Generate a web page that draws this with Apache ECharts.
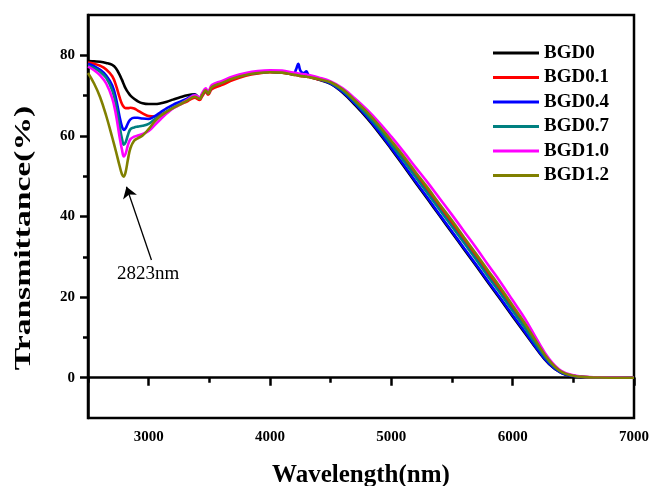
<!DOCTYPE html>
<html>
<head>
<meta charset="utf-8">
<script src="https://cdn.jsdelivr.net/npm/echarts@6/dist/echarts.min.js"></script>
<style>html,body{margin:0;padding:0;background:#fff}#c{width:651px;height:486px}</style>
</head>
<body>
<div id="c"></div>
<script>
var wavelengths = [2500,2550,2600,2650,2700,2730,2760,2780,2795,2810,2830,2850,2880,2910,2950,3000,3050,3100,3150,3200,3260,3320,3380,3420,3440,3470,3490,3520,3600,3700,3800,3900,4000,4100,4190,4215,4233,4250,4275,4300,4320,4400,4500,4600,4700,4800,4900,5000,5100,5200,5300,5400,5500,5600,5700,5800,5900,6000,6100,6200,6300,6400,6500,6600,6700,6800,7000];

var BGD0 = [78.6,78.5,78.4,78.1,77.6,76.8,75.2,73.9,72.8,71.8,70.8,70.0,69.2,68.6,68.1,67.9,67.9,68.1,68.5,69.0,69.6,70.1,70.3,
  69.3,70.2,71.4,70.6,72.2,73.2,74.4,75.2,75.7,75.9,75.8,75.3,75.2,75.1,75.0,74.9,74.8,74.7,
  74.0,72.9,70.7,67.7,64.4,60.7,56.7,52.6,48.4,44.3,40.1,36.0,31.8,27.7,23.5,19.4,15.2,11.1,7.0,3.4,1.2,0.4,0.1,0.05,0,0];
var BGD01 = [78.2,77.9,77.4,76.5,74.8,72.6,69.6,67.9,67.2,66.9,66.9,67.0,66.8,66.3,65.6,64.9,64.8,65.2,66.0,66.9,67.8,68.6,69.5,
  68.9,69.8,70.9,70.2,71.6,72.6,73.9,74.9,75.5,75.8,75.7,75.2,75.1,75.0,74.9,74.8,74.7,74.6,
  74.0,73.2,71.3,68.6,65.6,62.1,58.4,54.5,50.4,46.5,42.4,38.3,34.2,30.1,25.8,21.7,17.3,13.0,8.3,4.1,1.4,0.5,0.15,0.05,0,0];
var BGD04 = [77.9,77.3,76.4,75.0,72.5,69.4,64.8,62.3,61.5,61.9,63.2,64.1,64.5,64.5,64.3,64.2,64.9,65.9,66.9,67.7,68.5,69.3,70.2,
  69.3,70.2,71.4,70.6,72.2,73.2,74.4,75.2,75.7,75.9,75.8,75.3,76.5,77.9,76.2,75.6,76.0,75.0,
  74.1,73.0,70.9,68.0,64.7,61.0,57.0,52.9,48.7,44.6,40.4,36.3,32.1,28.0,23.8,19.7,15.5,11.4,7.2,3.5,1.2,0.4,0.1,0.05,0,0];
var BGD07 = [77.4,76.8,75.9,74.4,71.3,67.8,62.5,59.3,57.8,58.4,60.3,61.7,62.1,62.3,62.5,63.0,64.1,65.1,66.1,67.0,68.0,69.0,70.1,
  69.3,70.2,71.4,70.6,72.2,73.2,74.4,75.2,75.7,75.9,75.8,75.3,75.2,75.1,75.0,74.9,74.8,74.7,
  74.1,73.2,71.2,68.4,65.2,61.7,57.8,53.9,49.8,45.7,41.6,37.5,33.4,29.3,25.0,20.9,16.6,12.4,7.9,3.9,1.4,0.5,0.15,0.05,0,0];
var BGD10 = [77.2,76.3,75.0,73.0,69.3,65.3,59.8,56.6,54.9,55.6,57.8,59.2,59.8,60.1,60.5,61.2,62.7,64.2,65.6,66.8,67.8,69.0,70.1,
  69.6,70.5,71.8,71.0,72.6,73.6,74.8,75.6,76.1,76.3,76.2,75.7,75.6,75.5,75.4,75.3,75.2,75.1,
  74.5,73.5,71.8,69.3,66.5,63.3,59.8,56.1,52.2,48.4,44.4,40.4,36.3,32.2,27.9,23.7,19.2,14.7,9.5,4.7,1.7,0.6,0.2,0.1,0.05,0];
var BGD12 = [75.6,73.0,69.6,65.0,59.6,56.2,52.6,50.5,49.9,51.0,54.3,57.0,58.8,59.4,60.1,61.7,63.6,65.0,66.0,66.9,67.8,68.8,69.7,
  69.2,70.1,71.3,70.5,72.1,73.1,74.3,75.1,75.6,75.8,75.7,75.2,75.1,75.0,74.9,74.8,74.7,74.6,
  74.1,73.3,71.5,68.8,65.9,62.5,58.8,55.0,51.0,47.1,43.0,39.0,34.8,30.7,26.5,22.3,17.9,13.5,8.7,4.3,1.5,0.5,0.15,0.05,0,0];

var seriesNames = ['BGD0','BGD0.1','BGD0.4','BGD0.7','BGD1.0','BGD1.2'];
var seriesValues = [BGD0, BGD01, BGD04, BGD07, BGD10, BGD12];
var seriesColors = ['#000000','#ff0000','#0000ff','#008080','#ff00ff','#808000'];

var xMajorTicks = [3000,4000,5000,6000,7000];
var xMinorTicks = [2500,3500,4500,5500,6500];
var yMajorTicks = [0,20,40,60,80];
var yMinorTicks = [10,30,50,70];

var annotationText = '2823nm';
var arrowTail = [3023, 29.2];
var arrowHead = [2817, 47.4];
var annotationPos = [2995, 25.8];

var FONT = '"Liberation Serif","Times New Roman",serif';

var series = seriesNames.map(function (name, k) {
  var s = {
    name: name,
    type: 'line',
    xAxisIndex: 0,
    yAxisIndex: 0,
    symbol: 'none',
    smooth: 0.4,
    lineStyle: { width: 2.6, color: seriesColors[k] },
    itemStyle: { color: seriesColors[k] },
    data: wavelengths.map(function (w, i) { return [w, seriesValues[k][i]]; }),
    z: 3 + k
  };
  if (k === seriesNames.length - 1) {
    s.markLine = {
      silent: true,
      symbol: ['none', 'arrow'],
      symbolSize: 11,
      lineStyle: { color: '#000', width: 1.3, type: 'solid' },
      itemStyle: { color: '#000' },
      label: { show: false },
      data: [[{ coord: arrowTail }, { coord: arrowHead }]]
    };
    s.markPoint = {
      silent: true,
      symbol: 'rect',
      symbolSize: 1,
      itemStyle: { color: 'rgba(0,0,0,0)' },
      label: { show: true, position: 'inside', formatter: annotationText, color: '#000', fontSize: 19, fontFamily: FONT, fontWeight: 'normal' },
      data: [{ coord: annotationPos }]
    };
  }
  return s;
});

var chart = echarts.init(document.getElementById('c'), null, { renderer: 'canvas' });
chart.setOption({
  animation: false,
  backgroundColor: '#fff',
  grid: { left: 88, right: 17, top: 15, bottom: 68, containLabel: false, outerBoundsMode: 'none', show: true, borderColor: '#000', borderWidth: 2.5, backgroundColor: 'transparent' },
  legend: {
    orient: 'vertical',
    left: 488,
    top: 38,
    icon: 'rect',
    itemWidth: 46,
    itemHeight: 3,
    itemGap: 4.5,
    data: seriesNames,
    textStyle: { fontSize: 19, lineHeight: 20, fontWeight: 'bold', fontFamily: FONT, color: '#000' }
  },
  xAxis: [{
    type: 'value', min: 2500, max: 7000, position: 'bottom',
    name: 'Wavelength(nm)', nameLocation: 'middle', nameGap: 45,
    nameTextStyle: { fontSize: 25, fontWeight: 'bold', fontFamily: FONT, color: '#000' },
    axisLine: { show: true, lineStyle: { color: '#000', width: 2.5 } },
    axisTick: { show: true, customValues: xMajorTicks, length: 8, lineStyle: { color: '#000', width: 2.5 } },
    axisLabel: { customValues: xMajorTicks, margin: 12, fontSize: 15, fontWeight: 'bold', fontFamily: FONT, color: '#000', formatter: function (v) { return String(v); } },
    splitLine: { show: false }
  }, {
    type: 'value', min: 2500, max: 7000, position: 'bottom', offset: 0,
    axisLine: { show: false },
    axisTick: { show: true, customValues: xMinorTicks, length: 5, lineStyle: { color: '#000', width: 2.5 } },
    axisLabel: { show: false },
    splitLine: { show: false }
  }],
  yAxis: [{
    type: 'value', min: -10, max: 90, position: 'left',
    axisLine: { show: true, lineStyle: { color: '#000', width: 2.5 } },
    axisTick: { show: true, customValues: yMajorTicks, length: 8, lineStyle: { color: '#000', width: 2.5 } },
    axisLabel: { customValues: yMajorTicks, margin: 13, fontSize: 15, fontWeight: 'bold', fontFamily: FONT, color: '#000' },
    splitLine: { show: false }
  }, {
    type: 'value', min: -10, max: 90, position: 'left', offset: 0,
    axisLine: { show: false },
    axisTick: { show: true, customValues: yMinorTicks, length: 5, lineStyle: { color: '#000', width: 2.5 } },
    axisLabel: { show: false },
    splitLine: { show: false }
  }],
  graphic: [{
    type: 'text',
    x: 24, y: 238,
    rotation: Math.PI / 2,
    scaleX: 1.4,
    style: {
      text: 'Transmittance(%)',
      fill: '#000',
      font: 'bold 24px ' + FONT,
      align: 'center', verticalAlign: 'middle',
      textAlign: 'center', textVerticalAlign: 'middle'
    }
  }],
  series: series
});
</script>
</body>
</html>
